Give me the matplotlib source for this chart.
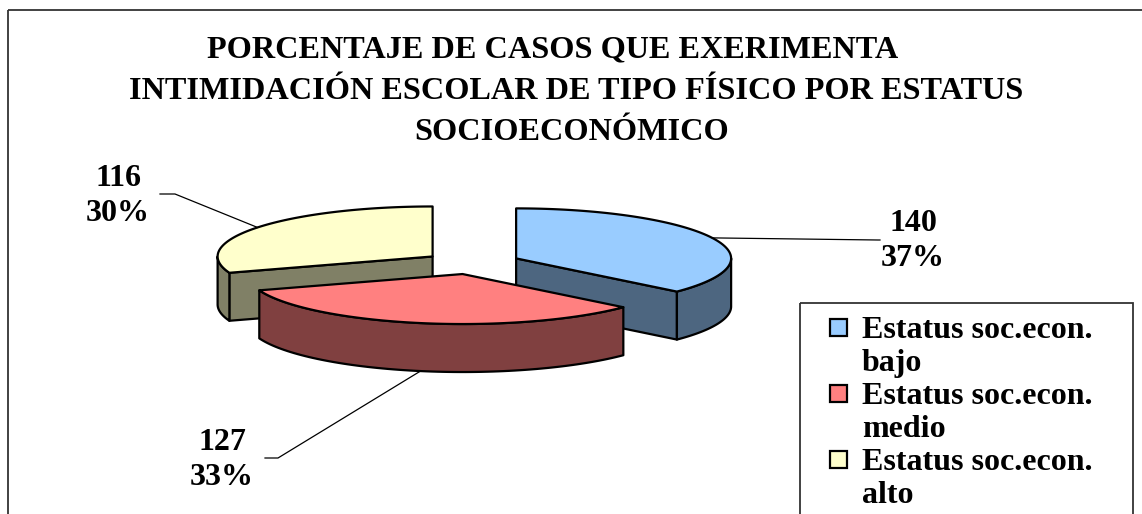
import math
import matplotlib
matplotlib.use("Agg")
import matplotlib.pyplot as plt
from matplotlib.patches import Polygon, Rectangle

# data
categories = ["Estatus soc.econ.\nbajo", "Estatus soc.econ.\nmedio", "Estatus soc.econ.\nalto"]
values = [140, 127, 116]
title_lines = ["PORCENTAJE DE CASOS QUE EXERIMENTA",
               "INTIMIDACIÓN ESCOLAR DE TIPO FÍSICO POR ESTATUS",
               "SOCIOECONÓMICO"]

top_colors = ["#99CCFF", "#FF8080", "#FFFFCC"]
side_colors = ["#4D6680", "#804040", "#808066"]

# layout (pixel-like coordinates, y down)
cx, cy = 472, 263
rx, ry = 215, 50
depth = 48
explode = 0.225
title_x = [553, 576, 572]
label_pos = [(913, 241), (222, 460), (118, 196)]
leader_knee = [(878, 240), (278, 458), (175, 194)]
leader_end = [(880, 240), (265, 458), (160, 194)]

FONT = "Liberation Serif"

fig = plt.figure(figsize=(11.42, 5.14), dpi=100)
ax = fig.add_axes([0, 0, 1, 1])
ax.set_xlim(0, 1142)
ax.set_ylim(514, 0)
ax.axis("off")

# outer chart border
ax.add_patch(Rectangle((8, 10), 1160, 540, fill=False, ec="#333333", lw=1.3))

for i, line in enumerate(title_lines):
    ax.text(title_x[i], 50 + i * 41.5, line, ha="center", va="center", fontsize=23.2,
            fontweight="bold", family=FONT)


def pt(sx, sy, t, dz=0.0):
    r = math.radians(t)
    return (sx + rx * math.cos(r), sy - ry * math.sin(r) + dz)


def arc(sx, sy, a, b, dz=0.0, n=80):
    return [pt(sx, sy, a + (b - a) * k / n, dz) for k in range(n + 1)]


total = sum(values)
slices = []
start = 90.0
for i, v in enumerate(values):
    span = v / total * 360
    t1, t2 = start, start - span
    mid = (t1 + t2) / 2
    sx = cx + explode * rx * math.cos(math.radians(mid))
    sy = cy - explode * ry * math.sin(math.radians(mid))
    slices.append((i, t1, t2, mid, sx, sy))
    start = t2

ekw = dict(ec="black", lw=1.6, joinstyle="round")
for i, t1, t2, mid, sx, sy in sorted(slices, key=lambda s: s[5]):
    # radial faces turned toward the viewer
    for t, vis in ((t1, math.cos(math.radians(t1)) < -1e-6),
                   (t2, math.cos(math.radians(t2)) > 1e-6)):
        if vis:
            a, b = pt(sx, sy, t), pt(sx, sy, t, depth)
            ax.add_patch(Polygon([(sx, sy), a, b, (sx, sy + depth)],
                                 fc=side_colors[i], **ekw))
    # outer curved side (front half only)
    lo, hi = max(t2, -180.0), min(t1, 0.0)
    if lo < hi:
        poly = arc(sx, sy, lo, hi) + arc(sx, sy, hi, lo, depth)
        ax.add_patch(Polygon(poly, fc=side_colors[i], **ekw))
    # top surface
    ax.add_patch(Polygon([(sx, sy)] + arc(sx, sy, t2, t1), fc=top_colors[i], **ekw))

# data labels and leader lines
for i, t1, t2, mid, sx, sy in slices:
    dz = depth if math.sin(math.radians(mid)) < 0 else 0
    anchor = pt(sx, sy, mid, dz)
    xs = [anchor[0], leader_knee[i][0], leader_end[i][0]]
    ys = [anchor[1], leader_knee[i][1], leader_end[i][1]]
    ax.plot(xs, ys, color="black", lw=0.9)
    pct = round(values[i] / total * 100)
    ax.text(label_pos[i][0], label_pos[i][1], f"{values[i]}\n{pct}%", ha="center",
            va="center", fontsize=23, fontweight="bold", family=FONT, linespacing=1.25)

# legend
ax.add_patch(Rectangle((800, 303), 333, 260, fill=False, ec="#333333", lw=1.3))
for i, lab in enumerate(categories):
    y0 = 327 + i * 66
    ax.add_patch(Rectangle((830, y0 - 8.5), 17, 17, fc=top_colors[i], ec="black", lw=1.6))
    ax.text(862, y0 + 20, lab, ha="left", va="center", fontsize=23, fontweight="bold",
            family=FONT, linespacing=1.18)

fig.savefig("out.png", dpi=100)
